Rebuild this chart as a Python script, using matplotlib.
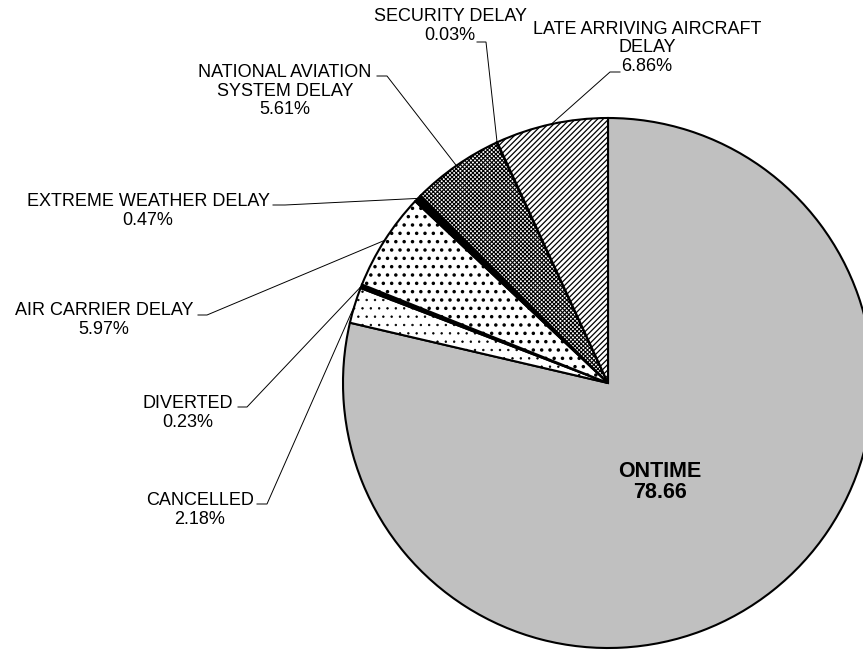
import matplotlib
matplotlib.use('Agg')
import matplotlib.pyplot as plt
import numpy as np

plt.rcParams['font.family'] = ['Liberation Sans', 'DejaVu Sans']

categories = ['ONTIME', 'CANCELLED', 'DIVERTED', 'AIR CARRIER DELAY',
              'EXTREME WEATHER DELAY', 'NATIONAL AVIATION SYSTEM DELAY',
              'SECURITY DELAY', 'LATE ARRIVING AIRCRAFT DELAY']
values = [78.66, 2.18, 0.23, 5.97, 0.47, 5.61, 0.03, 6.86]
label_texts = ['ONTIME\n78.66', 'CANCELLED\n2.18%', 'DIVERTED\n0.23%',
               'AIR CARRIER DELAY\n5.97%', 'EXTREME WEATHER DELAY\n0.47%',
               'NATIONAL AVIATION\nSYSTEM DELAY\n5.61%', 'SECURITY DELAY\n0.03%',
               'LATE ARRIVING AIRCRAFT\nDELAY\n6.86%']

face_colors = ['#c0c0c0', 'white', 'black', 'white', 'black', 'white', 'white', 'white']
hatches = [None, '..', None, '..', None, 'xxxxxxxx', None, '//////']
hatch_lw = [1, 0.5, 1, 1.3, 1, 0.8, 1, 0.9]

W, H = 863, 652
fig = plt.figure(figsize=(W / 100, H / 100), dpi=100)
ax = fig.add_axes([0, 0, 1, 1])

def Y(y):
    return H - y

cx, cy, r = 608, Y(383), 265
wedges, _ = ax.pie(values, startangle=90, counterclock=False, center=(cx, cy),
                   radius=r, colors=face_colors, frame=True,
                   wedgeprops=dict(edgecolor='black', linewidth=1.5))
for w, h, lw in zip(wedges, hatches, hatch_lw):
    if h:
        w.set_hatch(h)
        if hasattr(w, 'set_hatch_linewidth'):
            w.set_hatch_linewidth(lw)

ax.set_xlim(0, W)
ax.set_ylim(0, H)
ax.set_aspect('equal')
ax.axis('off')

# label layout (pixel coords, y downward): text centre, and leader elbow points
label_pos = [(660, 482), (200, 510), (188, 413), (104, 320), (148, 211),
             (285, 91), (450, 26), (647, 48)]
leader_pts = [None,
              [(257, 504), (267, 504)],
              [(238, 407), (247, 407)],
              [(198, 315), (207, 315)],
              [(273, 205), (285, 205)],
              [(377, 76), (387, 76)],
              [(477, 42), (486, 42)],
              [(620, 72), (610, 72)]]

for i, (w, txt) in enumerate(zip(wedges, label_texts)):
    tx, ty = label_pos[i]
    if i == 0:
        ax.text(tx, Y(ty), txt, ha='center', va='center', fontsize=15.5,
                fontweight='bold', linespacing=1.0)
        continue
    ax.text(tx, Y(ty), txt, ha='center', va='center', fontsize=13,
            linespacing=1.12)
    th = np.deg2rad((w.theta1 + w.theta2) / 2)
    ex = cx + r * np.cos(th)
    ey = cy + r * np.sin(th)
    xs = [p[0] for p in leader_pts[i]] + [ex]
    ys = [Y(p[1]) for p in leader_pts[i]] + [ey]
    ax.plot(xs, ys, color='black', linewidth=0.7, solid_joinstyle='miter')

fig.savefig('out.png', dpi=100)
